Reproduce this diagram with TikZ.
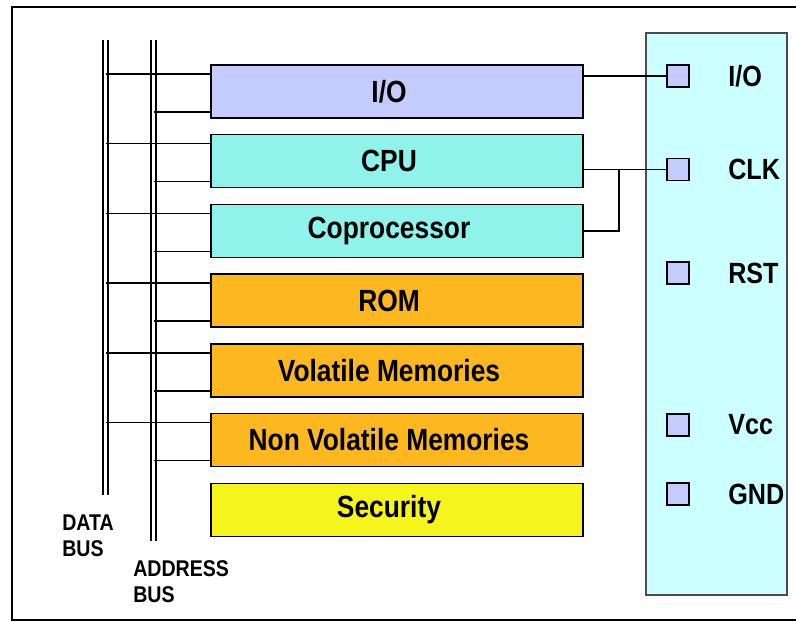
\documentclass[tikz,border=0pt]{standalone}
\usepackage{fontspec}
\setmainfont{Liberation Sans}[FakeStretch=0.86]
\usetikzlibrary{calc}
\definecolor{iofill}{HTML}{C4CCFF}
\definecolor{cpufill}{HTML}{8FF3EB}
\definecolor{memfill}{HTML}{FCB81E}
\definecolor{secfill}{HTML}{F5F51C}
\definecolor{chipfill}{HTML}{CCFFFF}
\tikzset{
    unit/.style = {draw = black, line width = 1.2pt, fill = #1, minimum width = 9.3cm, minimum height = 1.325cm,
        inner sep = 0, font = \fontsize{21.8}{24}\selectfont\bfseries, execute at begin node = \hspace*{-.4cm}},
    pad/.style = {draw = black, line width = 1.1pt, fill = iofill, minimum size = .55cm, inner sep = 0},
    pin/.style = {anchor = west, inner sep = 0, font = \fontsize{20.8}{24}\selectfont\bfseries},
    buslabel/.style = {anchor = west, inner sep = 0, align = left, font = \fontsize{16.2}{18.5}\selectfont\bfseries},
    wire/.style = {line width = 1.1pt},
    bus/.style = {line width = 1.2pt, double, double distance = 2.2pt}
}
\begin{document}
\begin{tikzpicture}[x = .025cm, y = -.025cm]
        \useasboundingbox (0, 0) rectangle (796, 622);
        \draw [line width = 1pt] (796, 7) -- (12, 7) -- (12, 620) -- (796, 620);
        % chip outline and pads
        \node [draw = black!70, line width = 1.4pt, fill = chipfill, minimum width = 3.525cm, minimum height = 14.05cm, inner sep = 0] (chip) at (716.5, 314) {};
        \node [pad] (pio) at (678, 76) {};
        \node [pad] (pclk) at (678, 169.5) {};
        \node [pad] (prst) at (678, 273) {};
        \node [pad] (pvcc) at (678, 425) {};
        \node [pad] (pgnd) at (678, 494) {};
        \node [pin] (lio) at (728, 76) {I/O};
        \node [pin] (lclk) at (728, 169.5) {CLK};
        \node [pin] (lrst) at (728, 273) {RST};
        \node [pin] (lvcc) at (728, 425) {Vcc};
        \node [pin] (lgnd) at (728, 494) {GND};
        % functional units
        \node [unit = iofill] (io) at (397, 91.5) {I/O};
        \node [unit = cpufill] (cpu) at (397, 161) {CPU};
        \node [unit = cpufill] (copro) at (397, 231) {Coprocessor};
        \node [unit = memfill] (rom) at (397, 300.5) {ROM};
        \node [unit = memfill] (vmem) at (397, 370.5) {Volatile Memories};
        \node [unit = memfill] (nvmem) at (397, 440) {Non Volatile Memories};
        \node [unit = secfill] (sec) at (397, 510) {Security};
        % buses
        \coordinate (dtop) at (105.5, 40);
        \coordinate (dbot) at (105.5, 495);
        \coordinate (atop) at (153.5, 40);
        \coordinate (abot) at (153.5, 541);
        \draw [bus] (dtop) -- (dbot);
        \draw [bus] (atop) -- (abot);
        \foreach \b in {io, cpu, copro, rom, vmem, nvmem} {
            \coordinate (\b-d) at ($(\b.north west) + (0, 10)$);
            \coordinate (\b-a) at ($(\b.south west) + (0, -7)$);
            \draw [wire] (\b-d -| dtop) -- (\b-d);
            \draw [wire] (\b-a -| atop) -- (\b-a);
        }
        \node [buslabel] (ldata) at (62, 535.5) {DATA\\BUS};
        \node [buslabel] (laddr) at (133, 581.5) {ADDRESS\\BUS};
        % pin wiring
        \coordinate (tee) at (619, 169.5);
        \draw [wire] (io.east |- pio) -- (pio.west);
        \draw [wire] (cpu.east |- pclk) -- (pclk.west);
        \draw [wire] (copro.east) -| (tee);
    \end{tikzpicture}
\end{document}
